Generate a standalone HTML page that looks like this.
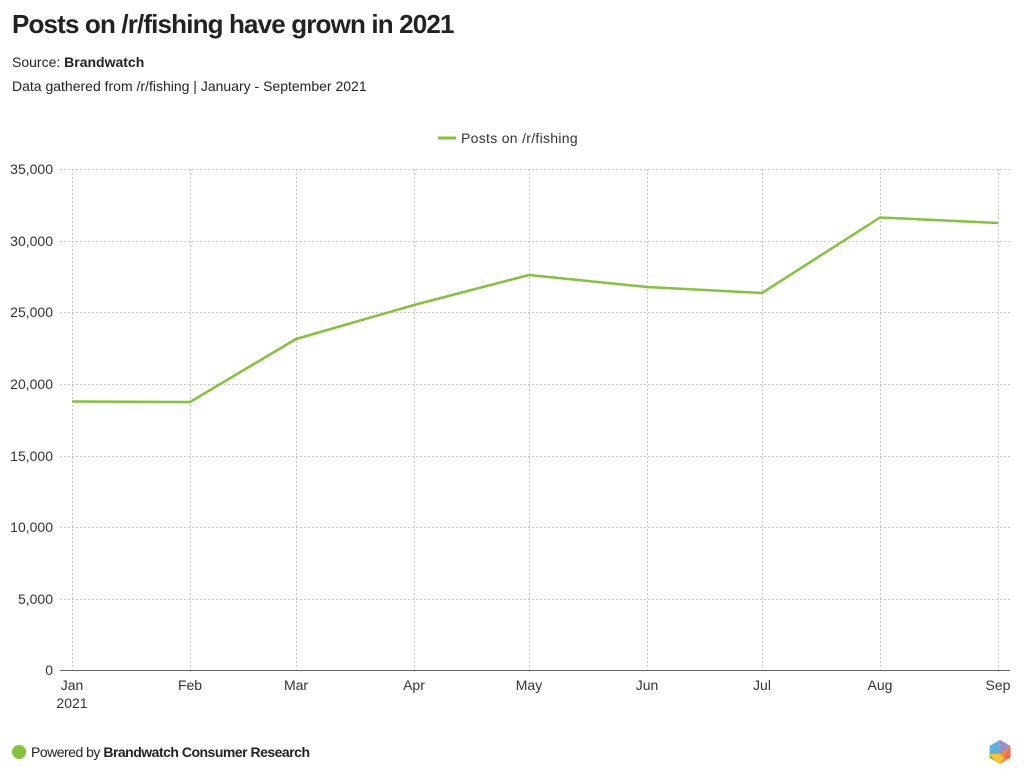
<!DOCTYPE html>
<html><head><meta charset="utf-8"><style>
body{margin:0;width:1024px;height:781px;background:#fff;font-family:"Liberation Sans",sans-serif;color:#222;position:relative;overflow:hidden}
.t{position:absolute;left:12px;top:9px;font-size:26px;font-weight:bold;color:#222;letter-spacing:-0.85px}
.s{position:absolute;left:12px;font-size:14px;color:#222}
</style></head><body>
<div class="t">Posts on /r/fishing have grown in 2021</div>
<div class="s" style="top:54px">Source: <b>Brandwatch</b></div>
<div class="s" style="top:78px">Data gathered from /r/fishing | January - September 2021</div>
<svg width="1024" height="781" style="position:absolute;left:0;top:0" font-family="Liberation Sans, sans-serif">
<g stroke="#c8c8c8" stroke-dasharray="2,2" stroke-width="1">
<line x1="60" x2="1010" y1="169.5" y2="169.5"/>
<line x1="60" x2="1010" y1="241.5" y2="241.5"/>
<line x1="60" x2="1010" y1="312.5" y2="312.5"/>
<line x1="60" x2="1010" y1="384.5" y2="384.5"/>
<line x1="60" x2="1010" y1="456.5" y2="456.5"/>
<line x1="60" x2="1010" y1="527.5" y2="527.5"/>
<line x1="60" x2="1010" y1="599.5" y2="599.5"/>
<line x1="72.5" x2="72.5" y1="169" y2="670"/>
<line x1="190.5" x2="190.5" y1="169" y2="670"/>
<line x1="296.5" x2="296.5" y1="169" y2="670"/>
<line x1="414.5" x2="414.5" y1="169" y2="670"/>
<line x1="529.5" x2="529.5" y1="169" y2="670"/>
<line x1="647.5" x2="647.5" y1="169" y2="670"/>
<line x1="762.5" x2="762.5" y1="169" y2="670"/>
<line x1="880.5" x2="880.5" y1="169" y2="670"/>
<line x1="998.5" x2="998.5" y1="169" y2="670"/>
</g>
<line x1="60" x2="1010" y1="670.5" y2="670.5" stroke="#666"/>
<g font-size="14" fill="#333" text-anchor="end">
<text x="53" y="174">35,000</text><text x="53" y="246">30,000</text><text x="53" y="317">25,000</text>
<text x="53" y="389">20,000</text><text x="53" y="461">15,000</text><text x="53" y="532">10,000</text>
<text x="53" y="604">5,000</text><text x="53" y="675">0</text>
</g>
<g font-size="14" fill="#333" text-anchor="middle">
<text x="72" y="690">Jan</text><text x="72" y="708">2021</text>
<text x="190" y="690">Feb</text><text x="296" y="690">Mar</text><text x="414" y="690">Apr</text>
<text x="529" y="690">May</text><text x="647" y="690">Jun</text><text x="762" y="690">Jul</text>
<text x="880" y="690">Aug</text><text x="998" y="690">Sep</text>
</g>
<polyline fill="none" stroke="#84c13c" stroke-width="2.5" stroke-linejoin="round" points="72,401.5 190,402 296,339 414,305 529,275 647,287 762,293 880,217.5 998,223"/>
<line x1="438" x2="456" y1="138" y2="138" stroke="#84c13c" stroke-width="3"/>
<text x="461" y="143" font-size="14" fill="#333" letter-spacing="0.3">Posts on /r/fishing</text>
<circle cx="19" cy="752" r="7" fill="#84c13c"/>
<text x="31" y="757" font-size="14" fill="#222" letter-spacing="-0.5">Powered by <tspan font-weight="bold">Brandwatch Consumer Research</tspan></text>
<g transform="translate(1000,752)">
<polygon points="0,-12 10.4,-6 10.4,6 0,12 -10.4,6 -10.4,-6" fill="#f28a3c"/>
<polygon points="0,-12 -10.4,-6 -10.4,6 0,2" fill="#5bb4e0"/>
<polygon points="0,-12 10.4,-6 0,2" fill="#9b8ec8"/>
<polygon points="10.4,-6 10.4,6 4,6" fill="#f26a5a"/>
<polygon points="-10.4,6 0,12 4,6 0,2 -10.4,2" fill="#f7c32e"/>
<polygon points="-10.4,2 -10.4,6 -5,9" fill="#84c13c"/>
</g>
</svg>
</body></html>
